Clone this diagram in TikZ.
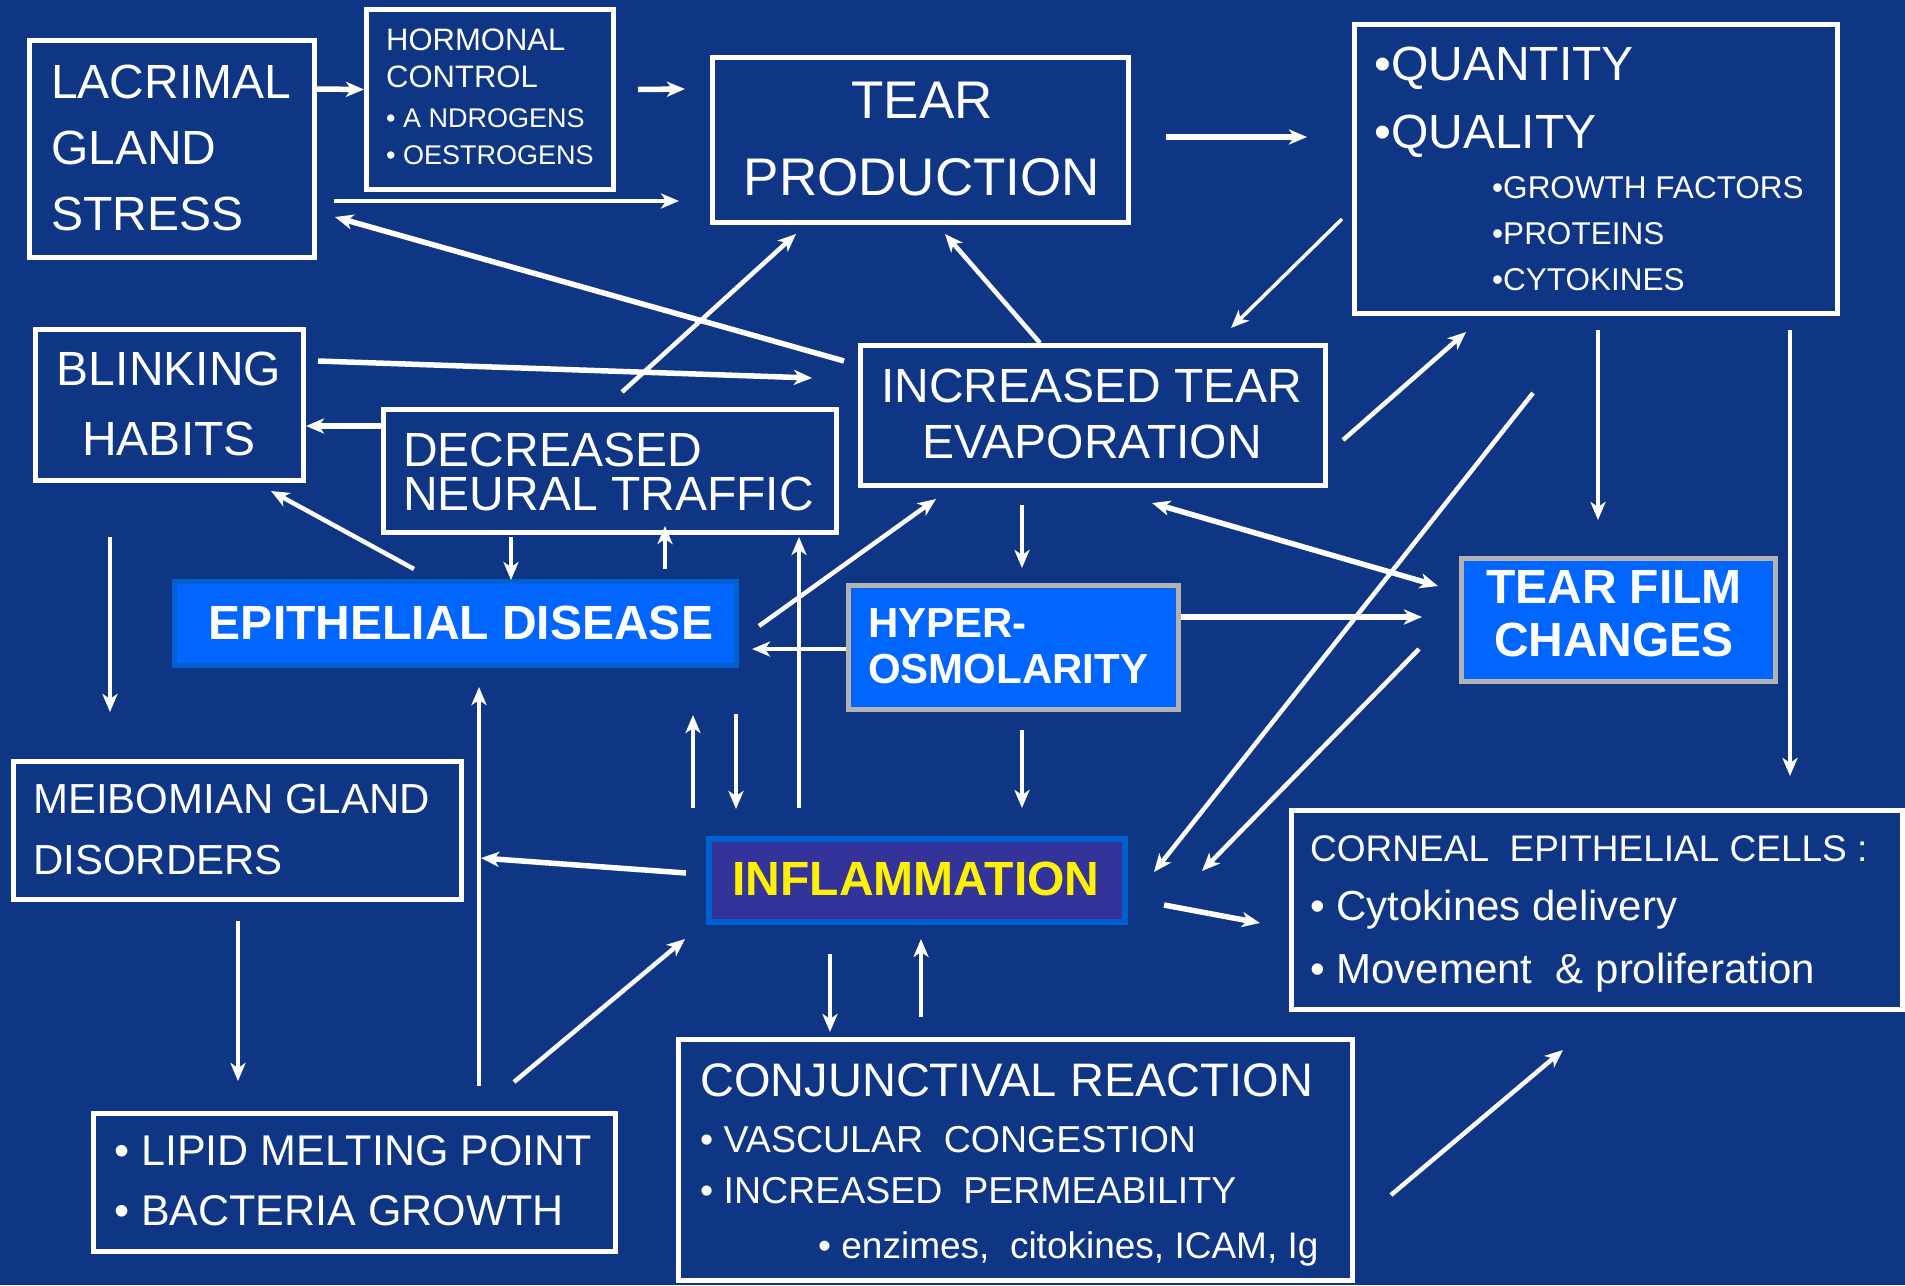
\documentclass[tikz,border=0pt]{standalone}
\usepackage{fontspec}
\setmainfont{Liberation Sans}
\usetikzlibrary{arrows.meta,calc}

\begin{document}
\begin{tikzpicture}[x=1pt,y=-1pt,
    >={Stealth[length=18pt,width=15pt,inset=5pt]},
    caja/.style={draw=white,line width=5pt,inner sep=0pt},
    txt/.style 2 args={text=white,inner sep=0pt,align=left,anchor=base west,font=\fontsize{#1pt}{#2pt}\selectfont},
    txtb/.style 2 args={txt={#1}{#2},font=\bfseries\fontsize{#1pt}{#2pt}\selectfont},
    flecha/.style={white,line width=3.5pt,->},
    flechab/.style={white,line width=4.5pt,->},
    flechag/.style={white,line width=5.5pt,->}]
    % Colores
    \definecolor{fondo}{RGB}{15,54,133}
    \definecolor{azulvivo}{RGB}{0,102,255}
    \definecolor{azulborde}{RGB}{0,96,208}
    \definecolor{morado}{RGB}{51,51,153}
    \definecolor{gris}{RGB}{178,178,178}

    % Fondo
    \useasboundingbox (0,0) rectangle (1905,1285);
    \fill[fondo] (0,0) rectangle (1905,1285);

    % Cajas
    \node[caja,minimum width=285,minimum height=217] (lacrimal) at (172,149) {};
    \node[caja,minimum width=247,minimum height=180] (hormonal) at (490,99.5) {};
    \node[caja,minimum width=416,minimum height=165] (tearprod) at (920.5,140) {};
    \node[caja,minimum width=483,minimum height=289] (quant) at (1596,169) {};
    \node[caja,minimum width=268,minimum height=151] (blinking) at (169.5,405) {};
    \node[caja,minimum width=453,minimum height=123] (neural) at (610,471) {};
    \node[caja,minimum width=465,minimum height=140] (evap) at (1093,415.5) {};
    \node[caja,draw=azulborde,fill=azulvivo,minimum width=562,minimum height=84] (epith) at (455.5,623.5) {};
    \node[caja,draw=gris,fill=azulvivo,minimum width=330,minimum height=124] (hyper) at (1013.5,647.5) {};
    \node[caja,draw=gris,fill=azulvivo,minimum width=314,minimum height=123] (film) at (1618.5,620) {};
    \node[caja,minimum width=448,minimum height=138] (meib) at (237.5,830.5) {};
    \node[caja,draw=azulborde,fill=morado,line width=6pt,minimum width=416,minimum height=83] (inflam) at (917,880.5) {};
    \node[caja,minimum width=611,minimum height=199] (corneal) at (1597,910) {};
    \node[caja,minimum width=674,minimum height=241] (conj) at (1015.5,1160) {};
    \node[caja,minimum width=522,minimum height=138] (lipid) at (354.5,1182.5) {};

    % Textos (la base es la de la ultima linea)
    \node[txt={48}{66}] (lacrimalt) at (51,230) {LACRIMAL\\GLAND\\STRESS};
    \node[txt={31}{37}] (hormonalt) at (386,87) {HORMONAL\\CONTROL};
    \node[txt={27}{37}] (hormonall) at (386,164) {• A NDROGENS\\• OESTROGENS};
    \node[txt={53}{77},align=center,anchor=base] (tearprodt) at (922,195) {TEAR\\PRODUCTION};
    \node[txt={48}{68}] (quantt) at (1374,148) {•QUANTITY\\•QUALITY};
    \node[txt={31.5}{46}] (quantl) at (1492,290) {•GROWTH FACTORS\\•PROTEINS\\•CYTOKINES};
    \node[txt={48}{70},align=center,anchor=base] (blinkingt) at (169,455) {BLINKING\\HABITS};
    \node[txt={48}{44}] (neuralt) at (403,510) {DECREASED\\NEURAL TRAFFIC};
    \node[txt={48}{56},align=center,anchor=base] (evapt) at (1092,458) {INCREASED TEAR\\EVAPORATION};
    \node[txtb={48}{58},align=center,anchor=base] (epitht) at (461,639) {EPITHELIAL DISEASE};
    \node[txtb={42}{46}] (hypert) at (868,683) {HYPER-\\OSMOLARITY};
    \node[txtb={48}{53},align=center,anchor=base] (filmt) at (1614,656) {TEAR FILM\\CHANGES};
    \node[txt={42}{61}] (meibt) at (33,874) {MEIBOMIAN GLAND\\DISORDERS};
    \node[txtb={48}{58},text=yellow,align=center,anchor=base] (inflamt) at (916,895) {INFLAMMATION};
    \node[txt={37}{50}] (cornealt) at (1310,861) {CORNEAL\ \ EPITHELIAL CELLS :};
    \node[txt={42}{63}] (corneall) at (1310,983) {• Cytokines delivery\\• Movement\ \ \& proliferation};
    \node[txt={47}{56}] (conjt) at (700,1096) {CONJUNCTIVAL REACTION};
    \node[txt={37.5}{51}] (conjl) at (700,1203) {• VASCULAR\ \ CONGESTION\\• INCREASED\ \ PERMEABILITY};
    \node[txt={37}{51}] (conjs) at (818,1258) {• enzimes,\ \ citokines, ICAM, Ig};
    \node[txt={43}{60}] (lipidt) at (114,1225) {• LIPID MELTING POINT\\• BACTERIA GROWTH};

    % Flechas de la fila superior
    \draw[flechag] ($(lacrimal.north east)+(0,51)$) -- ($(hormonal.west)+(0,-10)$);
    \draw[flechag] ($(hormonal.east)+(22,-10)$) -- ($(tearprod.west)+(-25,-51)$);
    \draw[flechab] ($(lacrimal.east)+(17,52)$) -- ($(tearprod.west)+(-31,61)$);
    \draw[flechag] ($(evap.north west)+(-14,18)$) -- ($(lacrimal.east)+(18,68)$);
    \draw[flechag] ($(tearprod.east)+(35,-3)$) -- ($(quant.west)+(-45,-32)$);
    \draw[flecha] ($(quant.west)+(-10,50)$) -- ($(evap.north)+(138,-15)$);
    \draw[flechab] ($(neural.north)+(12,-15)$) -- ($(tearprod.south west)+(86,9)$);
    \draw[flechab] ($(evap.north)+(-53,0)$) -- ($(tearprod.south)+(24.5,9)$);

    % Flechas del centro
    \draw[flechag] ($(blinking.north east)+(12,34)$) -- ($(evap.west)+(-46,-37.5)$);
    \draw[flechag] ($(neural.west)+(0,-45)$) -- ($(blinking.east)+(0,21)$);
    \draw[flechab] ($(epith.north west)+(242,-10)$) -- ($(blinking.south east)+(-35,8)$);
    \draw[flecha] ($(neural.south west)+(130,2)$) -- ($(epith.north west)+(339,1)$);
    \draw[flecha] ($(epith.north west)+(493,-10)$) -- ($(neural.south west)+(284,-9)$);
    \draw[flecha] ($(inflam.north west)+(93,-28)$) -- ($(neural.south west)+(418,2)$);
    \draw[flechab] ($(epith.east)+(20,2.5)$) -- ($(evap.south west)+(78,11)$);
    \draw[flechab] ($(hyper.west)+(0,1.5)$) -- ($(epith.east)+(13,25.5)$);
    \draw[flecha] ($(evap.south west)+(164,17)$) -- ($(hyper.north west)+(176,-15)$);
    \draw[flechag,<->] ($(evap.south east)+(-176,15)$) -- ($(film.north west)+(-21,30)$);
    \draw[flechag] ($(hyper.east)+(0,-30.5)$) -- ($(film.west)+(-37,-3)$);
    \draw[flechab] ($(evap.east)+(15,24.5)$) -- ($(quant.south west)+(114,16)$);
    \draw[flecha] ($(quant.south)+(2,14)$) -- ($(film.north west)+(139,-36)$);
    \draw[flecha] ($(quant.south east)+(-50,14)$) -- ($(corneal.north west)+(501,-32)$);

    % Flechas de la parte inferior
    \draw[flecha] ($(blinking.south west)+(77,54)$) -- ($(meib.north west)+(99,-47)$);
    \draw[flecha] ($(lipid.north west)+(388,-25)$) -- ($(epith.south west)+(307,19)$);
    \draw[flechag] ($(inflam.west)+(-20,-7.5)$) -- ($(meib.east)+(17,27.5)$);
    \draw[flecha] ($(meib.south)+(0.5,19)$) -- ($(lipid.north west)+(147,-30)$);
    \draw[flechab] ($(lipid.north west)+(423,-29)$) -- ($(inflam.south west)+(-21,14)$);
    \draw[flecha] ($(inflam.north west)+(-13,-28)$) -- ($(epith.south east)+(-46,47)$);
    \draw[flecha] ($(epith.south east)+(-3,46)$) -- ($(inflam.north west)+(30,-27)$);
    \draw[flecha] ($(hyper.south west)+(176,18)$) -- ($(inflam.north west)+(316,-28)$);
    \draw[flechab] ($(quant.south west)+(181,77)$) -- ($(inflam.east)+(26,-8.5)$);
    \draw[flechab] ($(film.west)+(-40,29)$) -- ($(inflam.east)+(74,-9.5)$);
    \draw[flechag] ($(inflam.east)+(36,24.5)$) -- ($(corneal.west)+(-29,13)$);
    \draw[flecha] ($(inflam.south west)+(124,29)$) -- ($(conj.north west)+(154,-5)$);
    \draw[flecha] ($(conj.north west)+(245,-20)$) -- ($(inflam.south west)+(215,14)$);
    \draw[flechab] ($(conj.east)+(36,35)$) -- ($(corneal.south west)+(274,38)$);

\end{tikzpicture}
\end{document}
